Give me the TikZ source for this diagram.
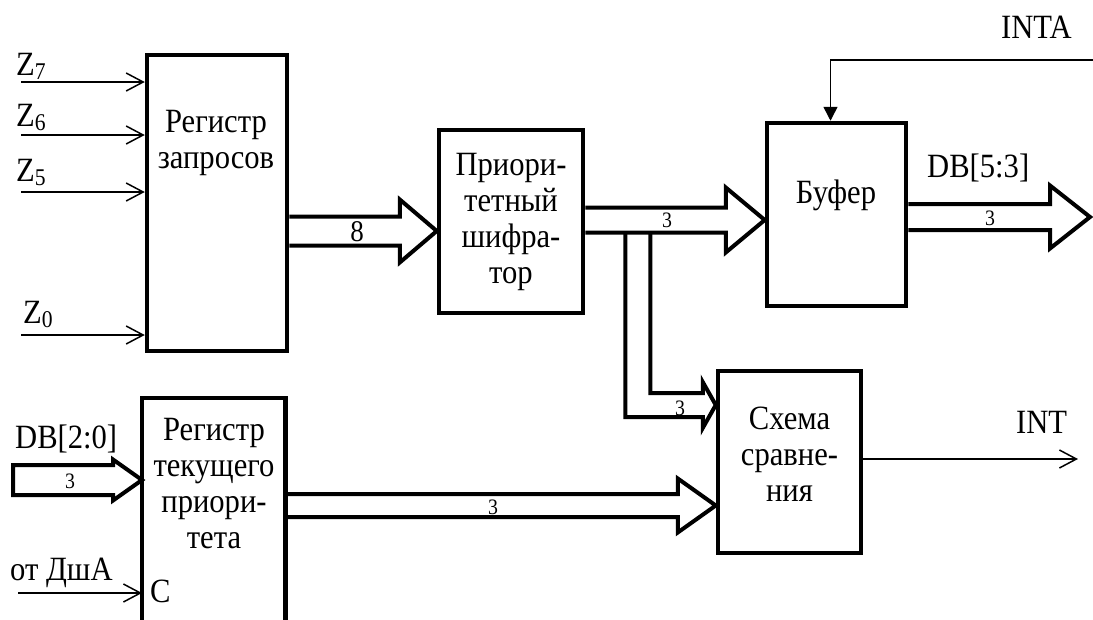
\documentclass[tikz,border=0pt]{standalone}
\usepackage{fontspec}
\setmainfont{Liberation Serif}[FakeStretch=0.9]
\usetikzlibrary{arrows.meta,calc,positioning}
\newcommand{\zsub}[1]{\raisebox{-4pt}{\fontsize{24}{24}\selectfont #1}}
% bus arrow: [closing], from, tip, half width, head half width, head length
\newcommand{\busarrow}[6][]{%
  \draw[bus] let \p1=#2, \p2=#3 in
    (\x1,\y2+#4) -- (\x2-#6,\y2+#4) -- (\x2-#6,\y2+#5) -- (\x2,\y2)
    -- (\x2-#6,\y2-#5) -- (\x2-#6,\y2-#4) -- (\x1,\y2-#4) #1;}
\tikzset{
  every node/.style={font=\fontsize{34}{36}\selectfont,inner sep=0pt},
  box/.style={draw,line width=4.5pt,align=center},
  openbox/.style={align=center},
  frame/.style={line width=4.5pt},
  boxtext/.style={align=center},
  bus/.style={line width=4pt,line join=miter},
  buslbl/.style={font=\fontsize{22}{22}\selectfont},
  sig/.style={line width=1.5pt,-{Straight Barb[length=17pt,width=18pt,line width=1.5pt]}},
  ctl/.style={line width=1.5pt,-{Triangle[length=14pt,width=14pt]}}
}
\begin{document}
\begin{tikzpicture}[x=1pt,y=-1pt]
  \useasboundingbox (0,0) rectangle (1093,619);

  % blocks
  \node[box,minimum width=140pt,minimum height=296pt] (rq) at (217,203) {};
  \node[boxtext] (rqtext) at (216,143) {Регистр\\запросов};
  \node[box,minimum width=144pt,minimum height=183pt] (sh) at (511,221.5) {Приори-\\тетный\\шифра-\\тор};
  \node[box,minimum width=139pt,minimum height=183pt] (bf) at (836.5,214.5) {};
  \node[boxtext] (bftext) at (836,195) {Буфер};
  \node[box,minimum width=143pt,minimum height=182pt] (cm) at (789.5,462) {};
  \node[boxtext] (cmtext) at (789.5,454) {Схема\\сравне-\\ния};
  \node[openbox,minimum width=143pt,minimum height=240pt,anchor=north west] (rt) at (142,398) {};
  \draw[frame] (rt.south west) -- (rt.north west) -- (rt.north east) -- (rt.south east);
  \node[boxtext] (rttext) at (214,484) {Регистр\\текущего\\приори-\\тета};
  \node[anchor=base west] (clk) at (150,602) {C};

  % request inputs
  \node[anchor=base west] (z7) at (16,75) {Z\zsub{7}};
  \node[anchor=base west] (z6) at (16,126) {Z\zsub{6}};
  \node[anchor=base west] (z5) at (16,181) {Z\zsub{5}};
  \node[anchor=base west] (z0) at (23,323) {Z\zsub{0}};
  \coordinate (z7in) at (21,82);
  \coordinate (z6in) at (21,135);
  \coordinate (z5in) at (21,192);
  \coordinate (z0in) at (21,335);
  \draw[sig] (z7in) -- (z7in -| rq.west);
  \draw[sig] (z6in) -- (z6in -| rq.west);
  \draw[sig] (z5in) -- (z5in -| rq.west);
  \draw[sig] (z0in) -- (z0in -| rq.west);

  % buses
  \busarrow{(rq.east)}{($(sh.west)+(0,9.5)$)}{14.5pt}{31.5pt}{37pt}
  \node[buslbl,font=\fontsize{30}{30}\selectfont] (n8) at (357,232) {8};
  \busarrow{(sh.east)}{($(bf.west)+(0,5.5)$)}{12.5pt}{32.5pt}{39pt}
  \node[buslbl] (n3a) at (667,220) {3};
  \coordinate (dbout) at (1090,217);
  \busarrow{(bf.east)}{(dbout)}{13pt}{31.5pt}{40pt}
  \node[buslbl] (n3b) at (990,218) {3};
  \node[anchor=base west] (db53) at (927,177) {DB[5:3]};

  \coordinate (split) at ($(sh.east)+(40,11)$);
  \coordinate (cmtip) at ($(cm.west)+(0,-57)$);
  \draw[bus] let \p1=(split), \p2=(cmtip) in
    (\x1,\y1) -- (\x1,\y2-12pt) -- (\x2-13pt,\y2-12pt) -- (\x2-13pt,\y2-23pt) -- (\p2)
    -- (\x2-13pt,\y2+23pt) -- (\x2-13pt,\y2+12pt) -- (\x1+25pt,\y2+12pt) -- (\x1+25pt,\y1);
  \node[buslbl] (n3c) at (680,408) {3};

  \coordinate (dbin) at (13,480);
  \busarrow[-- cycle]{(dbin)}{($(rt.north west)+(0,82)$)}{15pt}{20.5pt}{29pt}
  \node[buslbl] (n3d) at (70,481) {3};
  \node[anchor=base west] (db20) at (15,448) {DB[2:0]};
  \busarrow{(rt.east)}{($(cm.west)+(0,43.5)$)}{11.5pt}{27pt}{38pt}
  \node[buslbl] (n3e) at (493,507) {3};

  % control lines
  \node[anchor=base west] (dsha) at (10,580) {от ДшА};
  \coordinate (dshain) at (18,593);
  \draw[sig] (dshain) -- (dshain -| rt.west);

  \node[anchor=base west] (inta) at (1001,38) {INTA};
  \coordinate (intain) at (1093,60);
  \draw[ctl] (intain) -| ($(bf.north)+(-6,0)$);

  \node[anchor=base west] (int) at (1016,433) {INT};
  \coordinate (intout) at (1078,459);
  \draw[sig] (intout -| cm.east) -- (intout);
\end{tikzpicture}
\end{document}
